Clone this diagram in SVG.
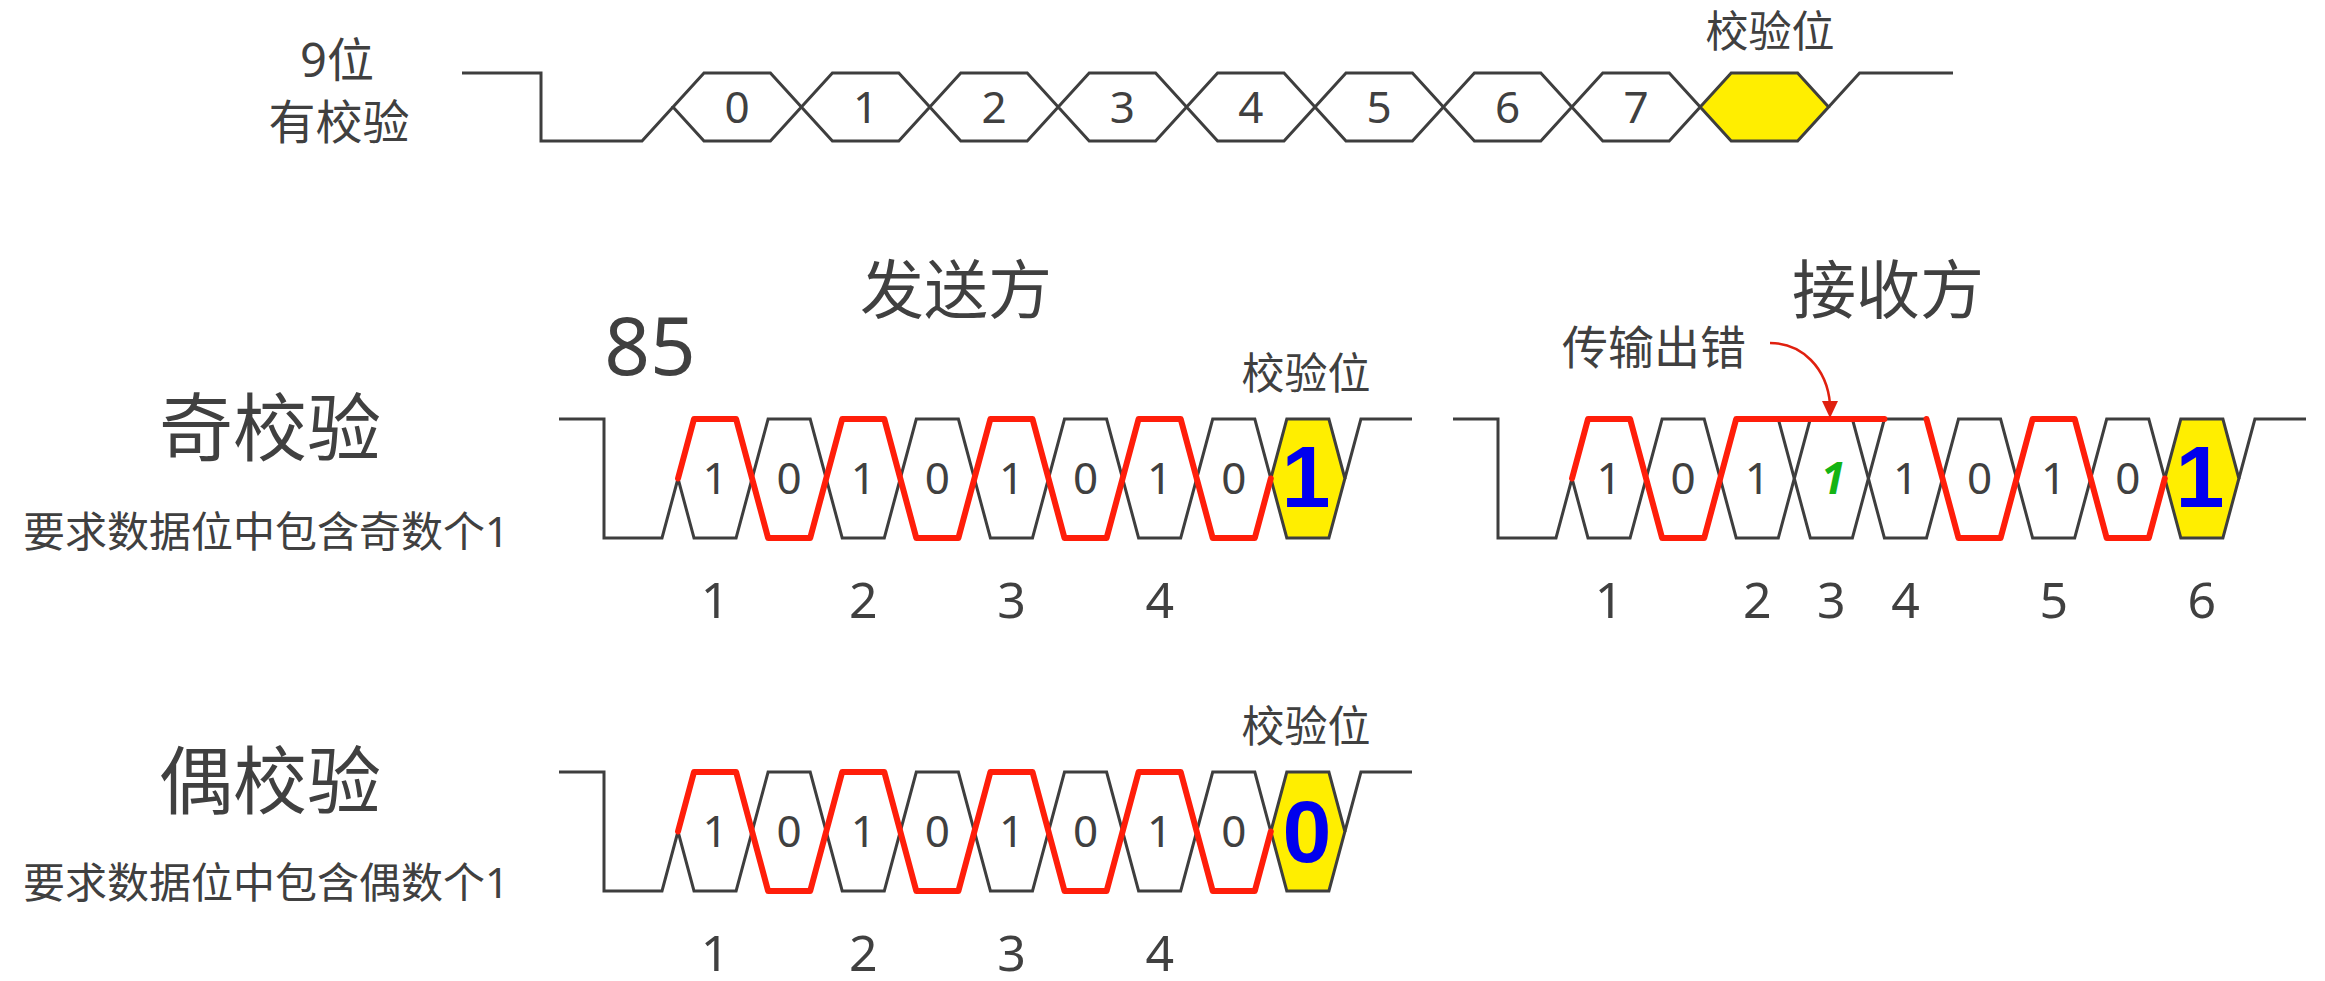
<svg xmlns="http://www.w3.org/2000/svg" xmlns:xlink="http://www.w3.org/1999/xlink" width="2325" height="981" viewBox="0 0 2325 981">
<style>
  .t { font-family: "Noto Sans", "Noto Sans CJK SC", sans-serif; fill: #404040; text-anchor: middle; }
  .bus { fill: none; stroke: #3e3e3e; stroke-width: 3; stroke-linejoin: miter; }
  .hex { fill: #ffffff; stroke: #3e3e3e; stroke-width: 3; }
  .par { fill: #FFEE00; stroke: #3e3e3e; stroke-width: 3; }
  .red { fill: none; stroke: #FF1E0A; stroke-width: 6; stroke-linejoin: round; stroke-linecap: round; }
  .bit { font-size: 44px; }
  .idx { font-size: 50px; }
  .pb { font-family: "Liberation Sans", Arial, sans-serif; font-weight: bold; font-size: 88px; fill: #0000EE; text-anchor: middle; }
  .lbl { font-size: 43px; }
</style>
<defs>
  <g id="wave2">
    <polyline class="bus" points="559,419 604,419 604,538 662,538 678,478.5"/>
    <polygon class="hex" points="678,478.5 694,419 736.1,419 752.1,478.5 736.1,538 694,538"/>
    <polygon class="hex" points="752.1,478.5 768.1,419 810.2,419 826.2,478.5 810.2,538 768.1,538"/>
    <polygon class="hex" points="826.2,478.5 842.2,419 884.3,419 900.3,478.5 884.3,538 842.2,538"/>
    <polygon class="hex" points="900.3,478.5 916.3,419 958.4,419 974.4,478.5 958.4,538 916.3,538"/>
    <polygon class="hex" points="974.4,478.5 990.4,419 1032.5,419 1048.5,478.5 1032.5,538 990.4,538"/>
    <polygon class="hex" points="1048.5,478.5 1064.5,419 1106.6,419 1122.6,478.5 1106.6,538 1064.5,538"/>
    <polygon class="hex" points="1122.6,478.5 1138.6,419 1180.7,419 1196.7,478.5 1180.7,538 1138.6,538"/>
    <polygon class="hex" points="1196.7,478.5 1212.7,419 1254.8,419 1270.8,478.5 1254.8,538 1212.7,538"/>
    <polygon class="par" points="1270.8,478.5 1286.8,419 1328.9,419 1344.9,478.5 1328.9,538 1286.8,538"/>
    <polyline class="bus" points="1344.9,478.5 1360.9,419 1412,419"/>
  </g>
  <path id="red10" class="red" d="M678,478.5 L694,419 L736.1,419 L768.1,538 L810.2,538 L842.2,419 L884.3,419 L916.3,538 L958.4,538 L990.4,419 L1032.5,419 L1064.5,538 L1106.6,538 L1138.6,419 L1180.7,419 L1212.7,538 L1254.8,538 L1270.8,478.5"/>
  <g id="bits10" class="t bit">
    <text x="715" y="494">1</text><text x="789.2" y="494">0</text>
    <text x="863.3" y="494">1</text><text x="937.4" y="494">0</text>
    <text x="1011.5" y="494">1</text><text x="1085.6" y="494">0</text>
    <text x="1159.7" y="494">1</text><text x="1233.8" y="494">0</text>
  </g>
  <g id="idx4" class="t idx">
    <text x="715" y="618">1</text><text x="863.3" y="618">2</text>
    <text x="1011.5" y="618">3</text><text x="1159.7" y="618">4</text>
  </g>
</defs>

<!-- Top row: 9-bit frame with parity -->
<g id="frame9">
  <text class="t" x="337" y="77" font-size="47">9位</text>
  <text class="t" x="339" y="139" font-size="47">有校验</text>
  <polyline class="bus" points="462,73 541,73 541,141 642,141 673,107"/>
  <polygon class="hex" points="673,107 704,73 770.4,73 801.4,107 770.4,141 704,141"/>
  <polygon class="hex" points="801.4,107 832.4,73 898.8,73 929.8,107 898.8,141 832.4,141"/>
  <polygon class="hex" points="929.8,107 960.8,73 1027.2,73 1058.2,107 1027.2,141 960.8,141"/>
  <polygon class="hex" points="1058.2,107 1089.2,73 1155.6,73 1186.6,107 1155.6,141 1089.2,141"/>
  <polygon class="hex" points="1186.6,107 1217.6,73 1284,73 1315,107 1284,141 1217.6,141"/>
  <polygon class="hex" points="1315,107 1346,73 1412.4,73 1443.4,107 1412.4,141 1346,141"/>
  <polygon class="hex" points="1443.4,107 1474.4,73 1540.8,73 1571.8,107 1540.8,141 1474.4,141"/>
  <polygon class="hex" points="1571.8,107 1602.8,73 1669.2,73 1700.2,107 1669.2,141 1602.8,141"/>
  <polygon class="par" points="1700.2,107 1731.2,73 1797.6,73 1828.6,107 1797.6,141 1731.2,141"/>
  <polyline class="bus" points="1828.6,107 1859.6,73 1953,73"/>
  <g class="t bit">
    <text x="737.2" y="123">0</text><text x="865.6" y="123">1</text>
    <text x="994" y="123">2</text><text x="1122.4" y="123">3</text>
    <text x="1250.8" y="123">4</text><text x="1379.2" y="123">5</text>
    <text x="1507.6" y="123">6</text><text x="1636" y="123">7</text>
  </g>
  <text class="t lbl" x="1770" y="47">校验位</text>
</g>

<!-- Headings -->
<g id="headings">
  <text class="t" x="956" y="313" font-size="64">发送方</text>
  <text class="t" x="1888" y="313" font-size="64">接收方</text>
  <text class="t" x="650" y="375" font-size="80">85</text>
</g>

<!-- Odd parity -->
<g id="odd-label">
  <text class="t" x="270" y="455" font-size="74">奇校验</text>
  <text class="t" x="266" y="547" font-size="42">要求数据位中包含奇数个1</text>
</g>
<g id="odd-sender">
  <use xlink:href="#wave2"/>
  <use xlink:href="#red10"/>
  <use xlink:href="#bits10"/>
  <text class="pb" x="1306" y="507">1</text>
  <text class="t lbl" x="1306" y="389">校验位</text>
  <use xlink:href="#idx4"/>
</g>
<g id="odd-receiver" transform="translate(894,0)">
  <use xlink:href="#wave2"/>
  <path class="red" d="M678,478.5 L694,419 L736.1,419 L768.1,538 L810.2,538 L842.2,419 L990.4,419"/>
  <path class="red" d="M1032.5,419 L1064.5,538 L1106.6,538 L1138.6,419 L1180.7,419 L1212.7,538 L1254.8,538 L1270.8,478.5"/>
  <g class="t bit">
    <text x="715" y="494">1</text><text x="789.2" y="494">0</text>
    <text x="863.3" y="494">1</text>
    <text x="939" y="494" fill="#14B414" font-style="italic" font-weight="bold" style="fill:#14B414">1</text>
    <text x="1011.5" y="494">1</text><text x="1085.6" y="494">0</text>
    <text x="1159.7" y="494">1</text><text x="1233.8" y="494">0</text>
  </g>
  <text class="pb" x="1306" y="507">1</text>
  <g class="t idx">
    <text x="715" y="618">1</text><text x="863.3" y="618">2</text>
    <text x="937.4" y="618">3</text><text x="1011.5" y="618">4</text>
    <text x="1159.7" y="618">5</text><text x="1307.9" y="618">6</text>
  </g>
</g>
<g id="error-note">
  <text class="t" x="1654" y="364" font-size="46">传输出错</text>
</g>
<g id="connectors">
  <path d="M1770,343 C1802,343 1827,368 1830,404" fill="none" stroke="#E0200F" stroke-width="2.5"/>
  <polygon points="1822,401 1838,401 1830,418" fill="#E0200F"/>
</g>

<!-- Even parity -->
<g id="even-label">
  <text class="t" x="270" y="808" font-size="74">偶校验</text>
  <text class="t" x="266" y="898" font-size="42">要求数据位中包含偶数个1</text>
</g>
<g id="even-sender" transform="translate(0,353)">
  <use xlink:href="#wave2"/>
  <use xlink:href="#red10"/>
  <use xlink:href="#bits10"/>
  <text class="pb" x="1307" y="509">0</text>
  <text class="t lbl" x="1306" y="389">校验位</text>
  <use xlink:href="#idx4"/>
</g>
</svg>
